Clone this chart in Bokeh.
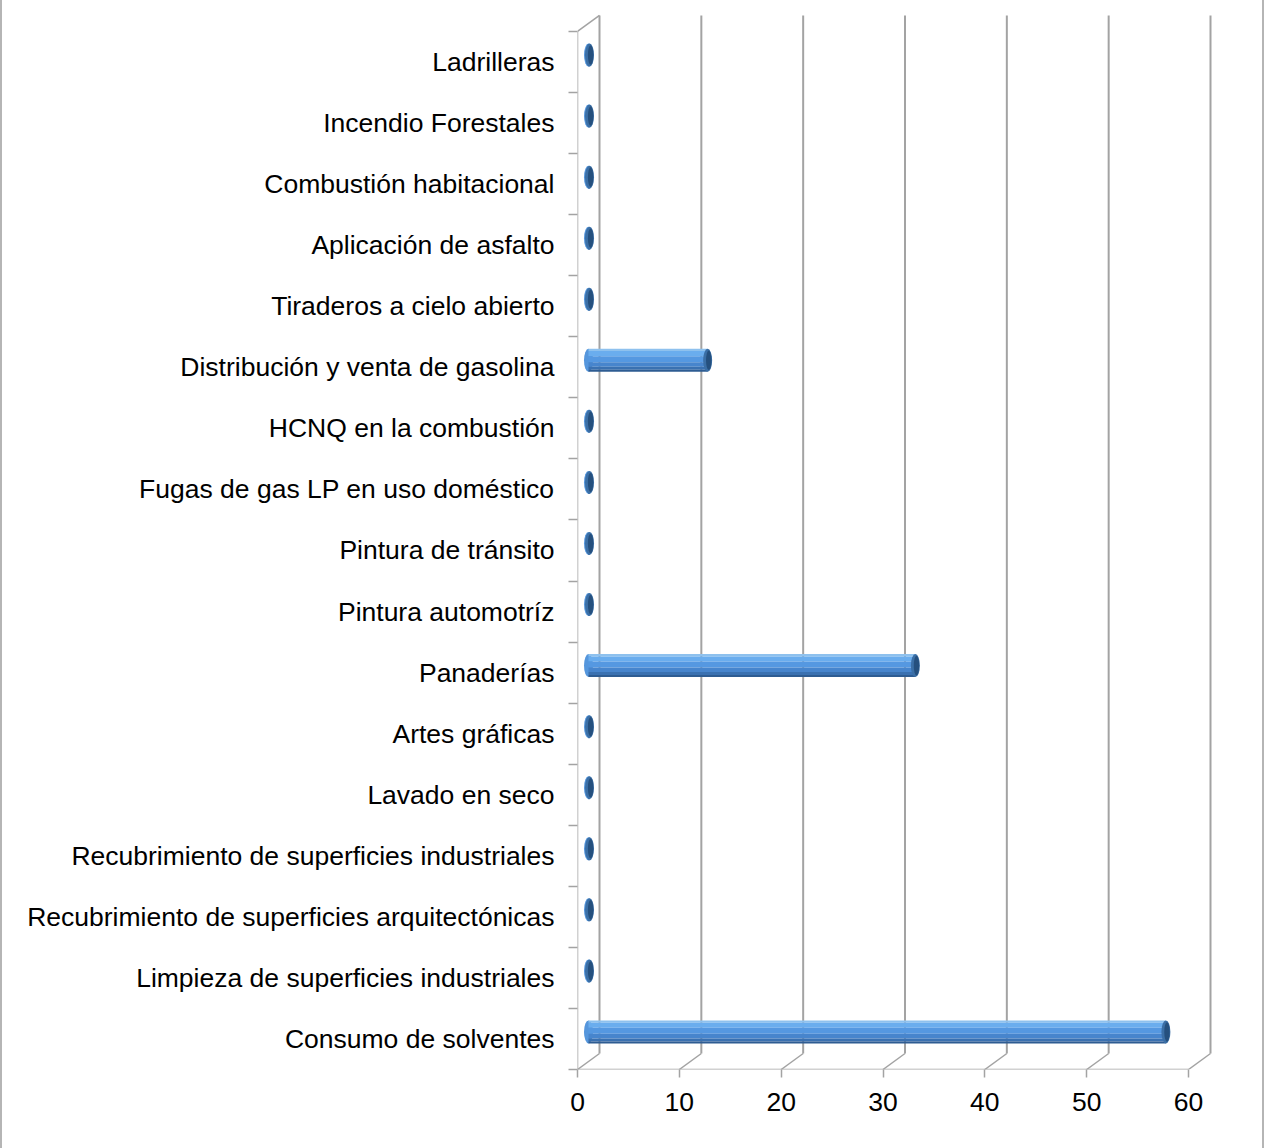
import numpy as np
from bokeh.plotting import figure
from bokeh.models import Range1d, FixedTicker
from bokeh.embed import file_html
from bokeh.resources import INLINE

# ---- data (top to bottom as shown) ----
categories = [
    "Ladrilleras",
    "Incendio Forestales",
    "Combustión habitacional",
    "Aplicación de asfalto",
    "Tiraderos a cielo abierto",
    "Distribución y venta de gasolina",
    "HCNQ en la combustión",
    "Fugas de gas LP en uso doméstico",
    "Pintura de tránsito",
    "Pintura automotríz",
    "Panaderías",
    "Artes gráficas",
    "Lavado en seco",
    "Recubrimiento de superficies industriales",
    "Recubrimiento de superficies arquitectónicas",
    "Limpieza de superficies industriales",
    "Consumo de solventes",
]
values = [0.1, 0.1, 0.1, 0.1, 0.1, 11.7, 0.1, 0.1, 0.1, 0.1, 32.1, 0.1, 0.1, 0.1, 0.1, 0.1, 56.7]
x_ticks = [0, 10, 20, 30, 40, 50, 60]

n = len(categories)
cats_b = categories[::-1]
vals_b = np.array(values[::-1], dtype=float)
rows = np.arange(n) + 0.5

# ---- geometry ----
KX = 611.0 / 60.0     # px per value unit
KY = 61.06            # px per category row
W, H = 1264, 1148
LEFT, RIGHT, TOP, BOTTOM = 575, 37, 10, 79
fw = W - LEFT - RIGHT
fh = H - TOP - BOTTOM
x_end = fw / KX
y_end = fh / KY

DX, DY = 22 / KX, 16 / KY      # depth of the 3D box
BX, BY = 11 / KX, 7 / KY       # bar position inside the depth
BH = 23 / KY                   # bar thickness
CW = 9 / KX                    # end cap width

FONT = "Liberation Sans"
GRID = "#a3a3a3"

p = figure(width=W, height=H, output_backend="svg", toolbar_location=None,
           x_range=Range1d(0, x_end), y_range=Range1d(0, y_end),
           min_border_left=LEFT, min_border_right=RIGHT,
           min_border_top=TOP, min_border_bottom=BOTTOM)
p.outline_line_color = None
p.xgrid.visible = False
p.ygrid.visible = False
p.background_fill_color = "white"
p.border_fill_color = "white"
p.styles = {"border-left": "2px solid #b5b5b5", "border-right": "2px solid #b5b5b5"}

xt = np.array(x_ticks, dtype=float)
top = float(n)

# back wall gridlines
p.segment(x0=xt + DX, y0=DY, x1=xt + DX, y1=top + DY, line_color=GRID, line_width=2)
# floor diagonals
p.segment(x0=xt, y0=0, x1=xt + DX, y1=DY, line_color=GRID, line_width=1.5)
# front left axis line, floor line, top-left diagonal
p.segment(x0=[0, 0, 0], y0=[0, 0, top], x1=[0, xt[-1], DX], y1=[top, 0, top + DY],
          line_color=GRID, line_width=1.5)

# ---- cylinders ----
yc = rows + BY
x0 = np.full(n, BX)
x1 = BX + vals_b
# left rounded end
p.ellipse(x=x0, y=yc, width=CW, height=BH, fill_color="#5596dc", line_color=None)
stripes = [
    (0.00, 0.10, "#8ec1ee"),
    (0.10, 0.32, "#6aadee"),
    (0.32, 0.58, "#5598e1"),
    (0.58, 0.78, "#4785cd"),
    (0.78, 0.91, "#3a71b1"),
    (0.91, 1.00, "#2e5c92"),
]
for a, b, c in stripes:
    p.quad(left=x0, right=x1, top=yc + BH / 2 - a * BH, bottom=yc + BH / 2 - b * BH,
           fill_color=c, line_color=None)
# end caps
p.ellipse(x=x1, y=yc, width=CW, height=BH, fill_color="#3b6fa6", line_color=None)
p.ellipse(x=x1 + CW * 0.12, y=yc, width=CW * 0.6, height=BH * 0.85,
          fill_color="#25507e", line_color=None)

# ---- axes ----
xa = p.xaxis[0]
xa.ticker = FixedTicker(ticks=x_ticks, minor_ticks=[])
xa.axis_line_color = None
xa.major_tick_out = 8
xa.major_tick_in = 0
xa.major_tick_line_color = GRID
xa.major_tick_line_width = 1.5
xa.minor_tick_line_color = None
xa.major_label_text_font = FONT
xa.major_label_text_font_size = "26.5px"
xa.major_label_text_color = "black"
xa.major_label_standoff = 15

ya = p.yaxis[0]
ya.ticker = FixedTicker(ticks=list(rows), minor_ticks=list(np.arange(n + 1, dtype=float)))
ya.major_label_overrides = {float(r): c for r, c in zip(rows, cats_b)}
ya.axis_line_color = None
ya.major_tick_out = 0
ya.major_tick_in = 0
ya.major_tick_line_color = None
ya.minor_tick_out = 9
ya.minor_tick_in = 0
ya.minor_tick_line_color = GRID
ya.minor_tick_line_width = 1.5
ya.major_label_text_font = FONT
ya.major_label_text_font_size = "26.5px"
ya.major_label_text_color = "black"
ya.major_label_standoff = 14

open("out.html", "w").write(file_html(p, INLINE))
